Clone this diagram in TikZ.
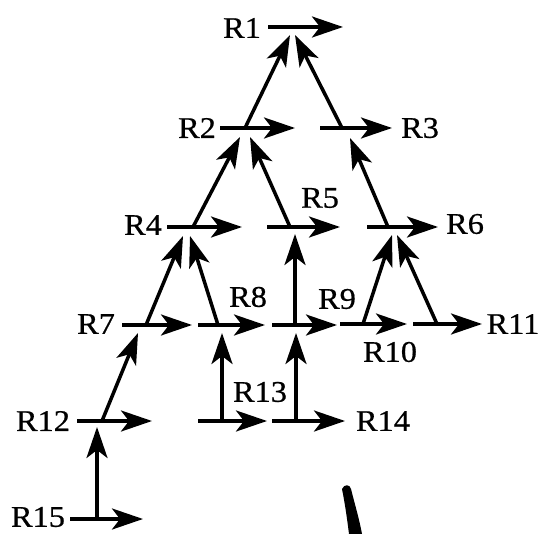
\documentclass[tikz,border=0pt]{standalone}
\usepackage{fontspec}
\setmainfont{Liberation Serif}
\newfontfamily\lblfont{Liberation Serif}[FakeBold=0.6]
\usetikzlibrary{arrows.meta}
\tikzset{
  lbl/.style={inner sep=0pt, font=\lblfont\fontsize{30}{30}\selectfont, xscale=1.08},
  rx/.style={line width=3.5pt, -{Stealth[length=31pt,width=21pt,inset=8pt]}},
  stray/.style={fill=black}
}
\begin{document}
\begin{tikzpicture}[x=1pt,y=-1pt]
\useasboundingbox (0,0) rectangle (545,534);
% labels
\node[lbl] (r1) at (242,28) {R1};
\node[lbl] (r2) at (197,128) {R2};
\node[lbl] (r3) at (420,128) {R3};
\node[lbl] (r4) at (143,225) {R4};
\node[lbl] (r5) at (320,198) {R5};
\node[lbl] (r6) at (465,224) {R6};
\node[lbl] (r7) at (96,324) {R7};
\node[lbl] (r8) at (248,297) {R8};
\node[lbl] (r9) at (337,299) {R9};
\node[lbl] (r10) at (390,352) {R10};
\node[lbl] (r11) at (513,324) {R11};
\node[lbl] (r12) at (43,421) {R12};
\node[lbl] (r13) at (260,392) {R13};
\node[lbl] (r14) at (383,421) {R14};
\node[lbl] (r15) at (38,517) {R15};
% horizontal reaction arrows
\coordinate (a1s) at (268,27);  \coordinate (a1e) at (343,27);
\coordinate (a2s) at (220,128); \coordinate (a2e) at (295,128);
\coordinate (a3s) at (320,128); \coordinate (a3e) at (392,128);
\coordinate (a4s) at (167,227); \coordinate (a4e) at (242,227);
\coordinate (a5s) at (267,227); \coordinate (a5e) at (340,227);
\coordinate (a6s) at (367,227); \coordinate (a6e) at (438,227);
\coordinate (a7s) at (122,325); \coordinate (a7e) at (192,325);
\coordinate (a8s) at (198,325); \coordinate (a8e) at (265,325);
\coordinate (a9s) at (272,325); \coordinate (a9e) at (337,325);
\coordinate (a10s) at (340,324); \coordinate (a10e) at (407,324);
\coordinate (a11s) at (413,324); \coordinate (a11e) at (482,324);
\coordinate (a12s) at (77,421); \coordinate (a12e) at (152,421);
\coordinate (a13s) at (198,421); \coordinate (a13e) at (267,421);
\coordinate (a14s) at (272,421); \coordinate (a14e) at (345,421);
\coordinate (a15s) at (70,519); \coordinate (a15e) at (143,519);
\foreach \i in {1,...,15} { \draw[rx] (a\i s) -- (a\i e); }
% junctions and tips
\coordinate (j2) at (245,128); \coordinate (t1L) at (290,35);
\coordinate (j3) at (342,128); \coordinate (t1R) at (295,35);
\coordinate (j4) at (193,227); \coordinate (t2L) at (240,137);
\coordinate (j5) at (290,227); \coordinate (t2R) at (250,137);
\coordinate (j6) at (388,227); \coordinate (t3) at (350,138);
\coordinate (j7) at (146,325); \coordinate (t4L) at (183,236);
\coordinate (j8) at (218,325); \coordinate (t4R) at (190,236);
\coordinate (j9) at (295,325); \coordinate (t5) at (295,234);
\coordinate (j10) at (363,324); \coordinate (t6L) at (392,235);
\coordinate (j11) at (437,324); \coordinate (t6R) at (397,235);
\coordinate (j12) at (102,421); \coordinate (t7) at (138,333);
\coordinate (j13) at (222,421); \coordinate (t8) at (222,333);
\coordinate (j14) at (296,421); \coordinate (t9) at (296,333);
\coordinate (j15) at (97,519);  \coordinate (t12) at (97,427);
\draw[rx] (j2) -- (t1L);
\draw[rx] (j3) -- (t1R);
\draw[rx] (j4) -- (t2L);
\draw[rx] (j5) -- (t2R);
\draw[rx] (j6) -- (t3);
\draw[rx] (j7) -- (t4L);
\draw[rx] (j8) -- (t4R);
\draw[rx] (j9) -- (t5);
\draw[rx] (j10) -- (t6L);
\draw[rx] (j11) -- (t6R);
\draw[rx] (j12) -- (t7);
\draw[rx] (j13) -- (t8);
\draw[rx] (j14) -- (t9);
\draw[rx] (j15) -- (t12);
% stray mark
\fill[stray] (342,489) .. controls (344,484) and (350,484) .. (351,489) .. controls (355,505) and (359,518) .. (362,534) -- (349,534) .. controls (347,518) and (345,504) .. cycle;
\end{tikzpicture}
\end{document}
